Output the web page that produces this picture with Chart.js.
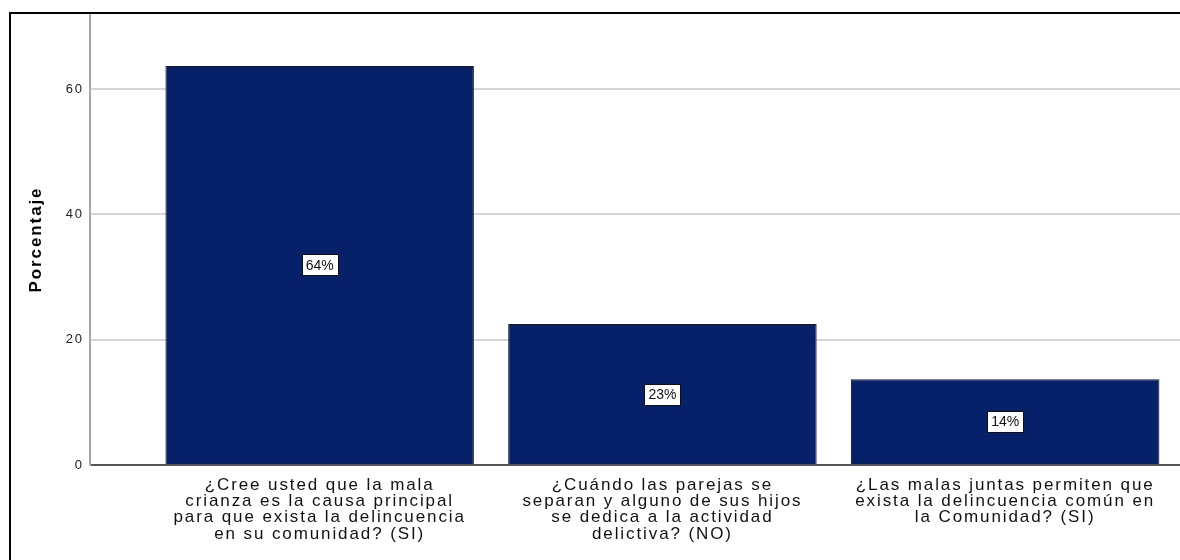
<!DOCTYPE html>
<html>
<head>
<meta charset="utf-8">
<script src="https://cdn.jsdelivr.net/npm/chart.js@4/dist/chart.umd.min.js"></script>
<style>
  html, body { margin: 0; padding: 0; background: #fff; }
  #wrap { width: 1180px; height: 560px; position: relative; }
</style>
</head>
<body>
<div id="wrap"><canvas id="barChart" width="1180" height="560"></canvas></div>
<script>
// categories (already wrapped as in the original)
const categories = [
    ['¿Cree usted que la mala', 'crianza es la causa principal', 'para que exista la delincuencia', 'en su comunidad? (SI)'],
    ['¿Cuándo las parejas se', 'separan y alguno de sus hijos', 'se dedica a la actividad', 'delictiva? (NO)'],
    ['¿Las malas juntas permiten que', 'exista la delincuencia común en', 'la Comunidad? (SI)'],
];
const percentValues = [63.7, 22.5, 13.7];
const percentLabels = ['64%', '23%', '14%'];
const yTicks = [0, 20, 40, 60];

const barColor = '#06206a';

// white boxes with the percentage in the middle of each bar
const boxLabels = {
    id: 'boxLabels',
    afterDatasetsDraw(chart) {
        const ctx = chart.ctx;
        const meta = chart.getDatasetMeta(0);
        ctx.save();
        ctx.letterSpacing = '0px';
        ctx.font = '14px "Liberation Sans", Arial, sans-serif';
        ctx.textAlign = 'center';
        ctx.textBaseline = 'middle';
        meta.data.forEach((bar, i) => {
            const text = percentLabels[i];
            const cy = (bar.y + bar.base) / 2;
            const w = ctx.measureText(text).width + 8;
            const h = 21;
            ctx.fillStyle = '#fff';
            ctx.fillRect(Math.round(bar.x - w / 2) + 0.5, Math.round(cy - h / 2) + 0.5, Math.round(w), h);
            ctx.strokeStyle = '#111';
            ctx.lineWidth = 1;
            ctx.strokeRect(Math.round(bar.x - w / 2) + 0.5, Math.round(cy - h / 2) + 0.5, Math.round(w), h);
            ctx.fillStyle = '#111';
            ctx.fillText(text, bar.x, cy + 1);
        });
        ctx.restore();
    }
};

// loose GDI-like spacing for the axis text, plus the outer frame
const frame = {
    id: 'frame',
    beforeDraw(chart) {
        chart.ctx.letterSpacing = '1.9px';
    },
    afterDraw(chart) {
        const ctx = chart.ctx;
        ctx.save();
        ctx.strokeStyle = '#000';
        ctx.lineWidth = 2;
        ctx.beginPath();
        ctx.moveTo(9, 13);
        ctx.lineTo(1180, 13);
        ctx.moveTo(10, 12);
        ctx.lineTo(10, 560);
        ctx.stroke();
        ctx.restore();
    }
};

function createBarChart() {
    const chartElement = document.getElementById('barChart').getContext('2d');

    new Chart(chartElement, {
        type: 'bar',
        data: {
            datasets: [
                {
                    label: 'Porcentaje',
                    data: percentValues.map((v, i) => ({ x: i, y: v })),
                    backgroundColor: barColor,
                    borderColor: '#1a1a1a',
                    borderWidth: 1,
                    barPercentage: 0.9,
                    categoryPercentage: 1,
                },
            ],
        },
        options: {
            responsive: false,
            animation: false,
            events: [],
            layout: { padding: { top: 14, left: 0, right: 0, bottom: 0 } },
            plugins: {
                legend: { display: false },
                tooltip: { enabled: false },
            },
            scales: {
                x: {
                    type: 'linear',
                    offset: false,
                    bounds: 'data',
                    min: -0.67,
                    max: 2.51,
                    afterBuildTicks: scale => {
                        scale.ticks = categories.map((c, i) => ({ value: i }));
                    },
                    afterFit: scale => { scale.height = 95; },
                    grid: { display: false, drawTicks: false },
                    border: { display: true, color: '#555', width: 2 },
                    ticks: {
                        autoSkip: false,
                        maxRotation: 0,
                        padding: 12,
                        color: '#111',
                        font: { family: '"Liberation Sans", Arial, sans-serif', size: 17, lineHeight: '16.3px' },
                        callback: value => categories[value],
                    },
                },
                y: {
                    min: 0,
                    max: 72,
                    afterFit: scale => { scale.width = 90; },
                    afterBuildTicks: scale => {
                        scale.ticks = yTicks.map(v => ({ value: v }));
                    },
                    grid: { color: '#d6d6d6', lineWidth: 2, drawTicks: false },
                    border: { display: true, color: '#a8a8a8', width: 2 },
                    ticks: {
                        padding: 6,
                        color: '#222',
                        font: { family: '"Liberation Sans", Arial, sans-serif', size: 13 },
                    },
                    title: {
                        display: true,
                        text: 'Porcentaje',
                        color: '#000',
                        padding: { top: 26, bottom: 0 },
                        font: { family: '"Liberation Sans", Arial, sans-serif', size: 17, weight: 'bold' },
                    },
                },
            },
        },
        plugins: [boxLabels, frame],
    });
}

createBarChart();
</script>
</body>
</html>
